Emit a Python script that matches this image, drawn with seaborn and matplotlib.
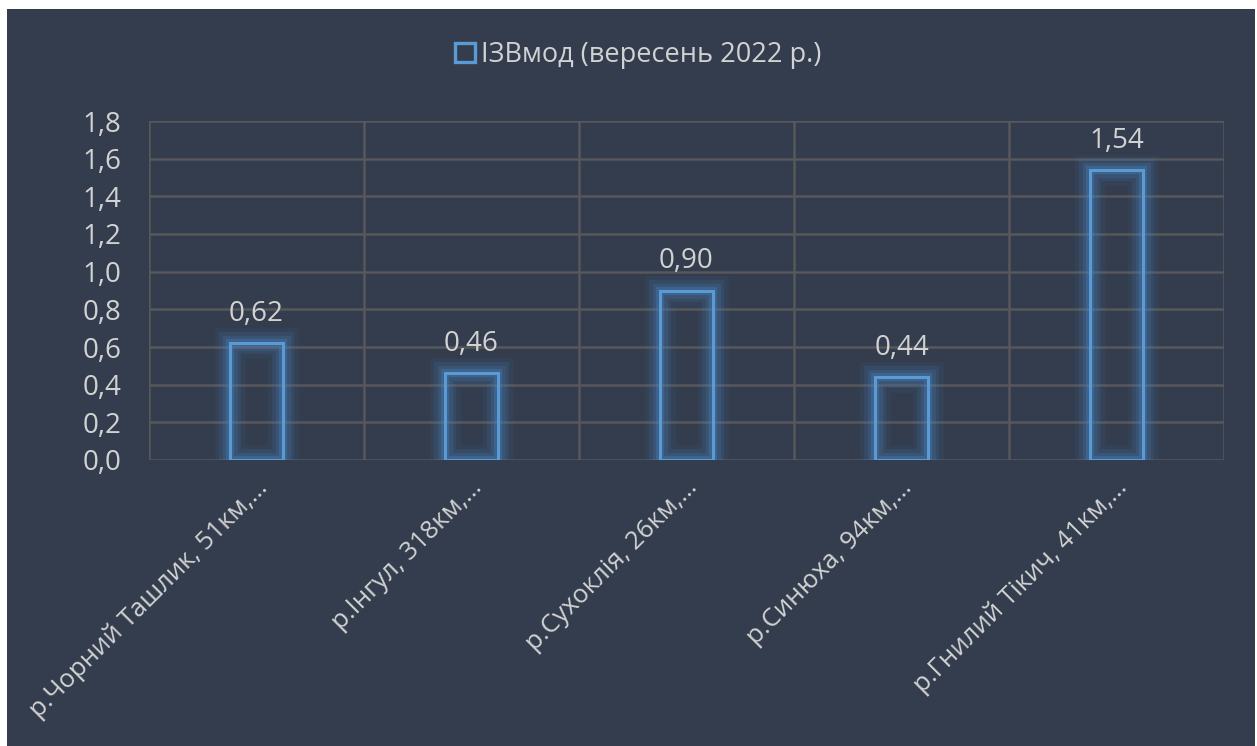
import matplotlib
matplotlib.use("Agg")
import matplotlib.pyplot as plt
import matplotlib.patheffects as pe
from matplotlib.patches import Rectangle
from matplotlib.ticker import FuncFormatter, MultipleLocator
import seaborn as sns
import pandas as pd

categories = ["р.Чорний Ташлик, 51км,…", "р.Інгул, 318км,…", "р.Сухоклія, 26км,…",
              "р.Синюха, 94км,…", "р.Гнилий Тікич, 41км,…"]
values = [0.62, 0.46, 0.90, 0.44, 1.54]
value_labels = ["0,62", "0,46", "0,90", "0,44", "1,54"]
series_name = "ІЗВмод (вересень 2022 р.)"

BG = "#333D4E"
GRID = "#58575A"
TXT = "#D2D2D2"
BLUE = "#5B9BD5"
GLOW = "#4A86C5"

sns.set_theme(style="dark")
plt.rcParams["font.family"] = ["Open Sans", "DejaVu Sans"]

fig = plt.figure(figsize=(12.57, 7.46), dpi=100)
fig.patch.set_facecolor("white")
fig.add_artist(Rectangle((7 / 1257, 0), (1255 - 7) / 1257, 1 - 9 / 746,
                         transform=fig.transFigure, facecolor=BG, edgecolor="none", zorder=0))

ax = fig.add_axes([149 / 1257, 1 - 460 / 746, (1224 - 149) / 1257, (460 - 121) / 746])
ax.set_facecolor(BG)
ax.patch.set_alpha(0)

df = pd.DataFrame({"cat": categories, "val": values})
sns.barplot(data=df, x="cat", y="val", ax=ax, width=0.25, fill=False,
            color=BLUE, linewidth=2.2, errorbar=None,
            label=series_name, zorder=3)

glow = [pe.Stroke(linewidth=22, foreground=GLOW, alpha=0.08),
        pe.Stroke(linewidth=16, foreground=GLOW, alpha=0.12),
        pe.Stroke(linewidth=11, foreground=GLOW, alpha=0.18),
        pe.Stroke(linewidth=6, foreground=GLOW, alpha=0.3),
        pe.Normal()]
for p in ax.patches:
    p.set_edgecolor(BLUE)
    p.set_path_effects(glow)

ax.set_ylim(0, 1.8)
ax.set_xlim(-0.5, len(categories) - 0.5)
ax.yaxis.set_major_locator(MultipleLocator(0.2))
ax.yaxis.set_major_formatter(FuncFormatter(lambda v, _: f"{v:.1f}".replace(".", ",")))
for y in [i * 0.2 for i in range(10)]:
    ax.axhline(y, color=GRID, linewidth=1.8, zorder=1)
for x in [i - 0.5 for i in range(len(categories) + 1)]:
    ax.axvline(x, color=GRID, linewidth=1.8, zorder=1)
for s in ax.spines.values():
    s.set_visible(False)
ax.grid(False)

ax.tick_params(axis="y", length=0, pad=20, labelsize=20, labelcolor=TXT)
ax.tick_params(axis="x", length=0, pad=2, labelsize=18.5, labelcolor=TXT)
ax.set_xlabel("")
ax.set_ylabel("")
ax.set_xticks(range(len(categories)))
ax.set_xticklabels(categories, rotation=45, ha="right", va="top", rotation_mode="anchor")
offset = matplotlib.transforms.ScaledTranslation(-2 / 100, -12 / 100, fig.dpi_scale_trans)
for lab in ax.get_xticklabels():
    lab.set_transform(lab.get_transform() + offset)

for i, (v, t) in enumerate(zip(values, value_labels)):
    ax.annotate(t, (i, v), xytext=(0, 11), textcoords="offset points",
                ha="center", va="bottom", fontsize=20, color=TXT)

leg = ax.legend(loc="center", bbox_to_anchor=(638 / 1257, 1 - 55 / 746), bbox_transform=fig.transFigure,
                frameon=False, fontsize=19.5, handlelength=0.75, handleheight=0.75,
                handletextpad=0.2, labelcolor=TXT)
for h in leg.legend_handles:
    h.set_edgecolor(BLUE)
    h.set_facecolor("none")
    h.set_linewidth(2.4)
    h.set_path_effects([])

fig.savefig("out.png", dpi=100, facecolor=fig.get_facecolor())
